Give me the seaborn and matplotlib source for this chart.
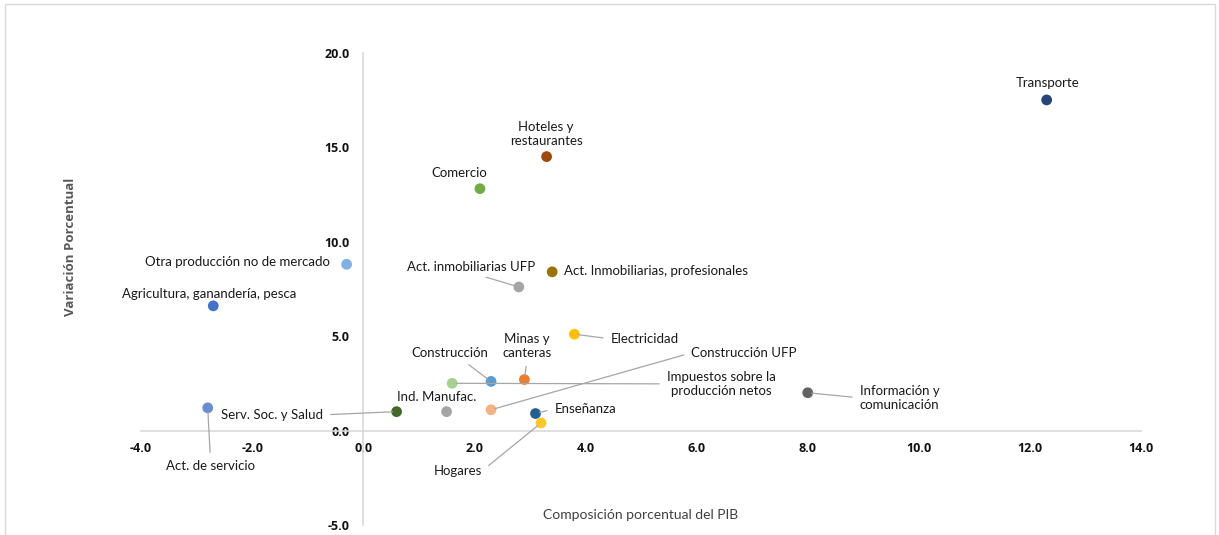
import numpy as np
import pandas as pd
import matplotlib.pyplot as plt
import matplotlib.patches as mpatches
import seaborn as sns

# ── Data ───────────────────────────────────────────────────
sectores = [
    "Transporte", "Hoteles y\nrestaurantes", "Comercio", "Otra producción no de mercado",
    "Act. Inmobiliarias, profesionales", "Act. inmobiliarias UFP",
    "Agricultura, ganandería, pesca", "Electricidad", "Construcción",
    "Impuestos sobre la\nproducción netos", "Minas y\ncanteras", "Serv. Soc. y Salud",
    "Ind. Manufac.", "Construcción UFP", "Enseñanza", "Hogares", "Act. de servicio",
    "Información y\ncomunicación",
]
composicion = [12.3, 3.3, 2.1, -0.3, 3.4, 2.8, -2.7, 3.8, 2.3, 1.6, 2.9, 0.6,
               1.5, 2.3, 3.1, 3.2, -2.8, 8.0]
variacion = [17.5, 14.5, 12.8, 8.8, 8.4, 7.6, 6.6, 5.1, 2.6, 2.5, 2.7, 1.0,
             1.0, 1.1, 0.9, 0.4, 1.2, 2.0]

colores = ["#264478", "#9E480E", "#70AD47", "#7FB2E0", "#997300", "#A5A5A5",
           "#4472C4", "#FFC000", "#5B9BD5", "#A9D18E", "#ED7D31", "#43682B",
           "#A5A5A5", "#F4B183", "#255E91", "#FFC72C", "#698ED0", "#636363"]

# label placement (data coords), alignment, leader relpos (None = no leader)
etiquetas = {
    "Transporte":                           ((12.31, 18.39), "center", None),
    "Hoteles y\nrestaurantes":              ((3.29, 15.70), "center", None),
    "Comercio":                             ((1.73, 13.64), "center", None),
    "Otra producción no de mercado":        ((-0.61, 8.93), "right", None),
    "Act. Inmobiliarias, profesionales":    ((3.62, 8.45), "left", None),
    "Act. inmobiliarias UFP":               ((1.94, 8.67), "center", (0.5, 0)),
    "Agricultura, ganandería, pesca":       ((-1.21, 7.23), "right", None),
    "Electricidad":                         ((4.45, 4.85), "left", (0, 0.5)),
    "Construcción":                         ((1.55, 4.11), "center", (0.65, 0)),
    "Impuestos sobre la\nproducción netos": ((6.44, 2.47), "center", (0, 0.5)),
    "Minas y\ncanteras":                    ((2.95, 4.48), "center", (0.5, 0)),
    "Serv. Soc. y Salud":                   ((-0.72, 0.83), "right", (1, 0.5)),
    "Ind. Manufac.":                        ((1.33, 1.78), "center", None),
    "Construcción UFP":                     ((5.90, 4.11), "left", (0, 0.5)),
    "Enseñanza":                            ((3.44, 1.15), "left", (0, 0.5)),
    "Hogares":                              ((2.14, -2.13), "right", (1, 0.5)),
    "Act. de servicio":                     ((-2.75, -1.87), "center", (0.5, 1)),
    "Información y\ncomunicación":          ((9.65, 1.73), "center", (0, 0.5)),
}

x_ticks = np.arange(-4, 14.1, 2)
y_ticks = np.arange(-5, 20.1, 5)

df = pd.DataFrame({"sector": sectores, "x": composicion, "y": variacion})

# ── Styling ────────────────────────────────────────────────
sns.set_style("white")
plt.rcParams["font.family"] = ["Lato", "DejaVu Sans"]
BOLD_FONT = ["Open Sans", "DejaVu Sans"]
TXT = "#404040"
AXC = "#D9D9D9"

fig = plt.figure(figsize=(12.19, 5.35), dpi=100)
fig.patches.append(mpatches.Rectangle((0.004, -0.05), 0.993, 1.043, transform=fig.transFigure,
                                      fill=False, edgecolor=AXC, linewidth=1))
ax = fig.add_axes([0.1157, 0.0187, 0.8204, 0.8828])

sns.scatterplot(data=df, x="x", y="y", hue="sector", palette=colores, s=60,
                edgecolor="none", legend=False, ax=ax, zorder=3)

# axes crossing at zero (set before tick labels: set_position resets ticks)
for s in ["top", "right"]:
    ax.spines[s].set_visible(False)
ax.spines["left"].set_position(("data", 0))
ax.spines["bottom"].set_position(("data", 0))
for s in ["left", "bottom"]:
    ax.spines[s].set_color(AXC)
    ax.spines[s].set_linewidth(1.2)

ax.set_xlim(-4, 14)
ax.set_ylim(-5, 20)
ax.set_xticks(x_ticks)
ax.set_yticks(y_ticks)
ax.set_xticklabels([f"{v:.1f}" for v in x_ticks], fontweight="bold", fontsize=9,
                   color="#111111", family=BOLD_FONT)
ax.set_yticklabels([f"{v:.1f}" for v in y_ticks], fontweight="bold", fontsize=9,
                   color="#111111", family=BOLD_FONT)
ax.tick_params(axis="both", length=0)
ax.tick_params(axis="y", pad=10)
ax.tick_params(axis="x", pad=8)
ax.set_xlabel("")
ax.set_ylabel("")

fig.text(641 / 1219, 1 - 515 / 535, "Composición porcentual del PIB", ha="center", va="center",
         fontsize=10, color=TXT)
fig.text(70 / 1219, 1 - 247 / 535, "Variación Porcentual", ha="center", va="center",
         rotation=90, fontsize=9.5, color="#595959", fontweight="bold", family=BOLD_FONT)

# ── Labels ─────────────────────────────────────────────────
for nombre, px, py in zip(sectores, composicion, variacion):
    (tx, ty), ha, rel = etiquetas[nombre]
    if rel is None:
        ax.text(tx, ty, nombre, ha=ha, va="center", fontsize=9.5, color="#1a1a1a",
                multialignment="center")
    else:
        ax.annotate(nombre, xy=(px, py), xytext=(tx, ty), ha=ha, va="center",
                    fontsize=9.5, color="#1a1a1a", multialignment="center",
                    arrowprops=dict(arrowstyle="-", color="#A6A6A6", lw=0.9,
                                    relpos=rel, shrinkA=3, shrinkB=3))

plt.savefig("out.png", dpi=100, facecolor="white")
